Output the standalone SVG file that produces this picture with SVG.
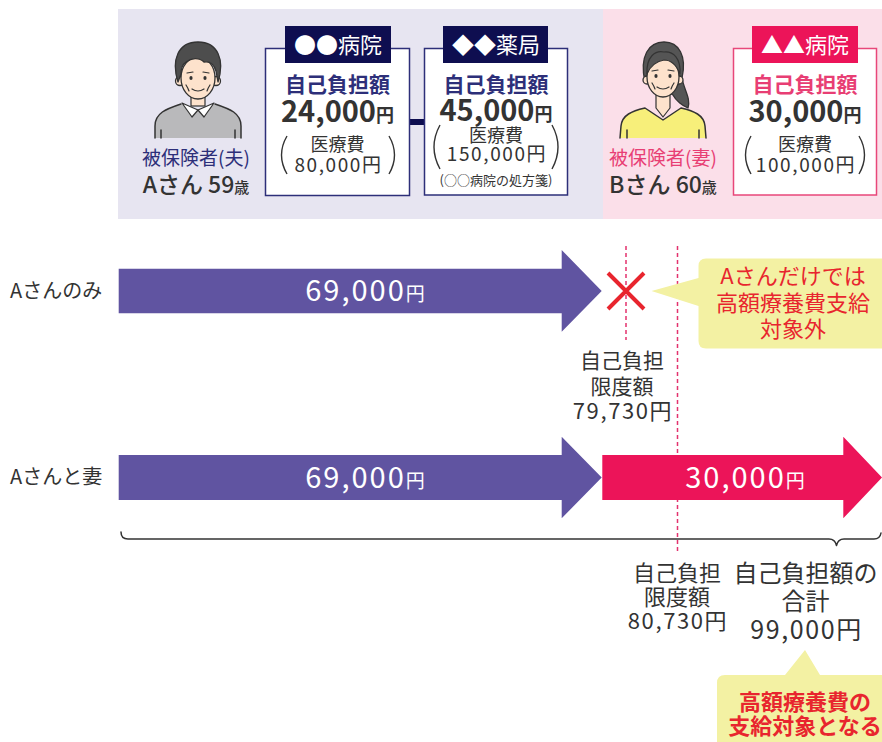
<svg xmlns="http://www.w3.org/2000/svg" width="882" height="742" viewBox="0 0 882 742">
  <style>
    text { font-family: "Noto Sans CJK JP", "Noto Sans", sans-serif; }
    .c { text-anchor: middle; }
    .navy { fill: #2d2f79; }
    .pink { fill: #e83e74; }
    .dark { fill: #333333; }
    .white { fill: #ffffff; }
    .red { fill: #e8252e; }
    .b { font-weight: bold; }
    .m { font-weight: 500; }
    .num { letter-spacing: 1.6px; }
    .box { fill: #ffffff; stroke-width: 1.5; }
    .paren { fill: none; stroke: #333333; stroke-width: 1.4; }
    .line { fill: none; stroke: #333333; stroke-width: 1.5; stroke-linejoin: round; stroke-linecap: round; }
    .dash { stroke: #e3326e; stroke-width: 1.5; stroke-dasharray: 4 3; }
    .skin { fill: #fde2cc; stroke: #333333; stroke-width: 1.3; }
    .feat { fill: none; stroke: #333333; stroke-width: 1.2; stroke-linecap: round; }
  </style>

  <!-- background panels -->
  <rect x="118" y="9" width="485" height="210" fill="#e7e5f1"/>
  <rect x="603" y="9" width="279" height="210" fill="#fbdfe9"/>

  <!-- connectors -->
  <g id="connectors">
    <line x1="410" y1="122" x2="424" y2="122" stroke="#0e0e50" stroke-width="6"/>
    <line class="dash" x1="626" y1="246" x2="626" y2="340"/>
    <line class="dash" x1="677.5" y1="246" x2="677.5" y2="553"/>
    <path class="line" d="M121,532 Q121,539 128,539 L829,539 Q835,539 836.5,545.5 Q838,539 844,539 L874,539 Q880,539 881,533"/>
  </g>

  <!-- insured person A -->
  <g id="person-a">
    <path d="M155,138 L155,126 C155,113 166,109 181,104 L198,110 L215,104 C230,109 241,113 241,126 L241,138 Z" fill="#b9b9bb"/>
    <path class="line" d="M155,138 L155,126 C155,113 166,109 181,104 M215,104 C230,109 241,113 241,126 L241,138"/>
    <line class="line" x1="161" y1="130" x2="161" y2="138"/>
    <line class="line" x1="235" y1="130" x2="235" y2="138"/>
    <rect x="191" y="94" width="14" height="12" fill="#fde2cc" stroke="#333" stroke-width="1.2"/>
    <path d="M182,103 L198,110 L192,117 Z" fill="#ffffff" stroke="#333" stroke-width="1.2" stroke-linejoin="round"/>
    <path d="M214,103 L198,110 L204,117 Z" fill="#ffffff" stroke="#333" stroke-width="1.2" stroke-linejoin="round"/>
    <circle class="skin" cx="180" cy="81" r="4.5"/>
    <circle class="skin" cx="216" cy="81" r="4.5"/>
    <ellipse class="skin" cx="198" cy="78" rx="17" ry="21"/>
    <path d="M178,82 C171,60 178,42 198,42 C218,42 225,60 218,82 L216,71 C214,64 210,61 204,62 C199,57 191,58 186,62 C183,64 181,68 181,74 Z" fill="#4d4d4d" stroke="#333" stroke-width="1.3" stroke-linejoin="round"/>
    <path class="feat" d="M187,73 L193,72 M203,72 L209,73"/>
    <ellipse cx="191" cy="78" rx="1.6" ry="2" fill="#333"/>
    <ellipse cx="205" cy="78" rx="1.6" ry="2" fill="#333"/>
    <path class="feat" d="M192,89 Q198,93 204,89 M186,85 Q188,88 189,91 M210,85 Q208,88 207,91"/>
  </g>

  <!-- ●● hospital -->
  <g id="hospital-a">
    <rect class="box" x="265.5" y="48.5" width="144" height="147" stroke="#2d2f79"/>
    <rect x="285" y="26" width="106" height="37" fill="#0e0e50"/>
    <text class="c white" x="338" y="52.5" font-size="22">●●病院</text>
    <text class="c navy b" x="337.5" y="91.5" font-size="21">自己負担額</text>
    <text class="c dark b" x="337.5" y="122" font-size="29">24,000<tspan font-size="18">円</tspan></text>
    <path class="paren" d="M287,136 Q276,155 287,174"/>
    <path class="paren" d="M389,136 Q400,155 389,174"/>
    <text class="c dark" x="337.5" y="151" font-size="18">医療費</text>
    <text class="c dark num" x="338.5" y="172" font-size="19">80,000円</text>
  </g>

  <!-- ◆◆ pharmacy -->
  <g id="pharmacy">
    <rect class="box" x="424.5" y="48.5" width="143" height="146.5" stroke="#2d2f79"/>
    <rect x="443" y="26" width="105" height="37" fill="#0e0e50"/>
    <text class="c white" x="496" y="52.5" font-size="22">◆◆薬局</text>
    <text class="c navy b" x="496" y="91.5" font-size="21">自己負担額</text>
    <text class="c dark b" x="496" y="121" font-size="29">45,000<tspan font-size="18">円</tspan></text>
    <path class="paren" d="M440,125 Q428,147 440,169"/>
    <path class="paren" d="M552,125 Q564,147 552,169"/>
    <text class="c dark" x="496" y="142" font-size="18">医療費</text>
    <text class="c dark num" x="497" y="161" font-size="19">150,000円</text>
    <text class="c dark" x="496" y="185" font-size="13">(○○病院の処方箋)</text>
  </g>

  <!-- insured person B -->
  <g id="person-b">
    <path d="M645,82 C639,56 649,42 664,42 C679,42 687,56 682,78 C684,90 691,98 688,108 C683,106 676,101 673,95 Z" fill="#555555" stroke="#333" stroke-width="1.3" stroke-linejoin="round"/>
    <path d="M620,138 L621,126 C622,115 632,111 645,108 L663,120 L681,108 C694,111 704,115 705,126 L706,138 Z" fill="#f7ef7a"/>
    <path class="line" d="M620,138 L621,126 C622,115 632,111 645,108 L663,120 L681,108 C694,111 704,115 705,126 L706,138"/>
    <line class="line" x1="627" y1="130" x2="627" y2="138"/>
    <line class="line" x1="699" y1="130" x2="699" y2="138"/>
    <path d="M656,92 L656,108 L663,117 L670,108 L670,92 Z" fill="#fde2cc" stroke="#333" stroke-width="1.2" stroke-linejoin="round"/>
    <circle class="skin" cx="647" cy="80" r="4"/>
    <circle class="skin" cx="679" cy="80" r="4"/>
    <ellipse class="skin" cx="663" cy="77" rx="16" ry="20"/>
    <path d="M647,74 C646,56 656,50 664,52 C673,51 681,58 680,74 C676,64 670,60 664,60 C657,61 650,66 647,74 Z" fill="#555555" stroke="#333" stroke-width="1.2" stroke-linejoin="round"/>
    <path class="feat" d="M652,71 L658,70 M668,70 L674,71"/>
    <ellipse cx="656" cy="76" rx="1.6" ry="2" fill="#333"/>
    <ellipse cx="670" cy="76" rx="1.6" ry="2" fill="#333"/>
    <path class="feat" d="M657,87 Q663,91 669,87 M652,83 Q654,86 655,89 M674,83 Q672,86 671,89"/>
  </g>

  <!-- ▲▲ hospital -->
  <g id="hospital-b">
    <rect class="box" x="733.5" y="48.5" width="143" height="146.5" stroke="#e8477a"/>
    <rect x="752" y="26" width="106" height="37" fill="#ec1459"/>
    <text class="c white" x="805" y="52.5" font-size="22">▲▲病院</text>
    <text class="c pink b" x="805" y="91.5" font-size="21">自己負担額</text>
    <text class="c dark b" x="805" y="122" font-size="29">30,000<tspan font-size="18">円</tspan></text>
    <path class="paren" d="M751,136 Q740,155 751,174"/>
    <path class="paren" d="M859,136 Q870,155 859,174"/>
    <text class="c dark" x="805" y="151" font-size="18">医療費</text>
    <text class="c dark num" x="806" y="172" font-size="19">100,000円</text>
  </g>

  <!-- person captions -->
  <g id="caption-a">
    <text class="c navy" x="196" y="165" font-size="19">被保険者(夫)</text>
    <text class="c dark m" x="196" y="193" font-size="23">Aさん 59<tspan font-size="15">歳</tspan></text>
  </g>
  <g id="caption-b">
    <text class="c pink" x="663" y="165" font-size="19">被保険者(妻)</text>
    <text class="c dark m" x="663" y="193" font-size="23">Bさん 60<tspan font-size="15">歳</tspan></text>
  </g>

  <!-- row: A only -->
  <g id="row-a-only">
    <text class="dark" x="10" y="298" font-size="20">Aさんのみ</text>
    <polygon points="118.7,268.7 561.7,268.7 561.7,250 601.7,291 561.7,331.7 561.7,313.3 118.7,313.3" fill="#6054a1"/>
    <text class="c white" x="366" y="301" font-size="29" letter-spacing="2">69,000<tspan font-size="19">円</tspan></text>
  </g>

  <!-- not eligible mark -->
  <g id="cross">
    <path d="M608,273 L644,309 M644,273 L608,309" stroke="#e8252e" stroke-width="4" fill="none"/>
  </g>

  <!-- limit for A alone -->
  <g id="limit-a">
    <text class="c dark" x="622" y="367.5" font-size="21">自己負担</text>
    <text class="c dark" x="622" y="394" font-size="21">限度額</text>
    <text class="c dark num" x="623" y="419" font-size="22">79,730円</text>
  </g>

  <!-- callout: not eligible -->
  <g id="callout-a">
    <path d="M706,258.5 L890,258.5 L890,348.5 L706,348.5 Q698.5,348.5 698.5,341 L698.5,306 L651.5,291 L698.5,278 L698.5,266 Q698.5,258.5 706,258.5 Z" fill="#f3f1a3"/>
    <text class="c red" x="793" y="284" font-size="22">Aさんだけでは</text>
    <text class="c red" x="793" y="311" font-size="22">高額療養費支給</text>
    <text class="c red" x="793" y="337" font-size="22">対象外</text>
  </g>

  <!-- row: A and wife -->
  <g id="row-a-wife">
    <text class="dark" x="10" y="484" font-size="20">Aさんと妻</text>
    <polygon points="118.7,455 561.7,455 561.7,436.7 601.7,477.5 561.7,518.3 561.7,500 118.7,500" fill="#6054a1"/>
    <text class="c white" x="366" y="487.5" font-size="29" letter-spacing="2">69,000<tspan font-size="19">円</tspan></text>
    <polygon points="602.3,455 843.3,455 843.3,436.7 882,477.5 843.3,518.3 843.3,500 602.3,500" fill="#ec1459"/>
    <text class="c white" x="746" y="487.5" font-size="29" letter-spacing="2">30,000<tspan font-size="19">円</tspan></text>
  </g>

  <!-- limit for the household -->
  <g id="limit-household">
    <text class="c dark" x="677" y="581" font-size="22">自己負担</text>
    <text class="c dark" x="677" y="605" font-size="22">限度額</text>
    <text class="c dark num" x="678" y="629" font-size="22">80,730円</text>
  </g>

  <!-- total -->
  <g id="total">
    <text class="c dark" x="805.5" y="581.5" font-size="24">自己負担額の</text>
    <text class="c dark" x="805.5" y="610" font-size="24">合計</text>
    <text class="c dark num" x="806.5" y="639" font-size="25">99,000円</text>
  </g>

  <!-- callout: eligible -->
  <g id="callout-b">
    <path d="M725,675 L785,675 L805,650 L820,675 L895,675 L895,750 L717,750 L717,683 Q717,675 725,675 Z" fill="#f3f1a3"/>
    <text class="c red b" x="805" y="709.5" font-size="22">高額療養費の</text>
    <text class="c red b" x="805" y="733.5" font-size="22">支給対象となる</text>
  </g>
</svg>
